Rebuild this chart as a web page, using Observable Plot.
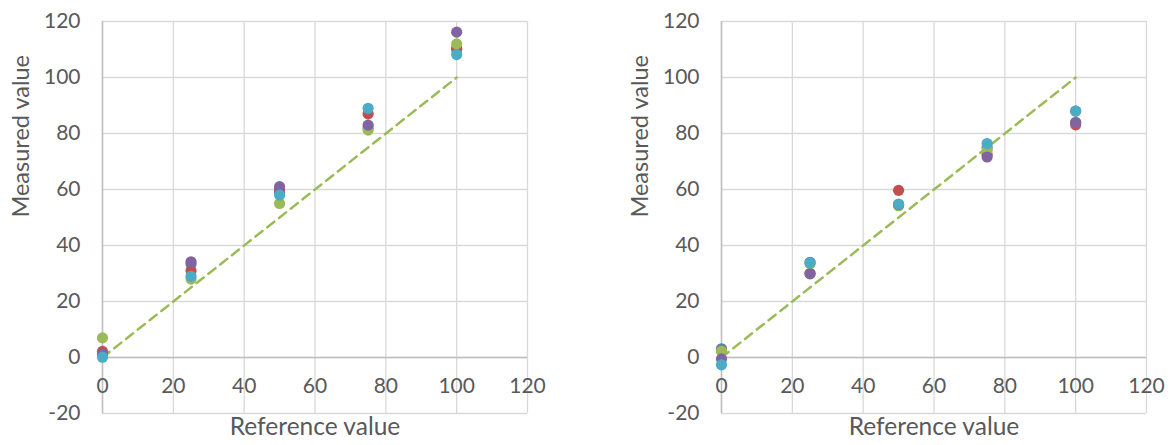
<!DOCTYPE html>
<html><head><meta charset="utf-8">
<script src="https://cdn.jsdelivr.net/npm/d3@7"></script>
<script src="https://cdn.jsdelivr.net/npm/@observablehq/plot@0.6"></script>
<style>
body{margin:0;background:#fff;}
#wrap{position:relative;width:1171px;height:445px;overflow:hidden;}
#wrap > div{position:absolute;top:0;}
</style></head><body><div id="wrap"><div id="c1" style="left:0"></div><div id="c2" style="left:619px"></div></div>
<script>
// Data
const referenceValues = [0, 25, 50, 75, 100];
const seriesNames = ["Series1", "Series2", "Series3", "Series4", "Series5"];
const seriesColors = ["#4F81BD", "#C0504D", "#9BBB59", "#8064A2", "#4BACC6"];

// Left chart: measured values per series at each reference value
const leftSeries1 = [1.0, 33.4, 59.0, 82.0, 110.0];
const leftSeries2 = [2.2, 31.0, 60.0, 87.0, 110.5];
const leftSeries3 = [7.0, 28.0, 55.0, 81.2, 112.0];
const leftSeries4 = [1.3, 34.2, 61.0, 83.0, 116.2];
const leftSeries5 = [0.1, 29.0, 58.0, 89.0, 108.2];

// Right chart
const rightSeries1 = [3.1, 34.0, 54.5, 75.0, 88.0];
const rightSeries2 = [2.5, 30.0, 59.7, 72.5, 83.1];
const rightSeries3 = [2.25, 33.5, 54.2, 74.0, 84.0];
const rightSeries4 = [-0.5, 29.9, 54.6, 71.6, 83.9];
const rightSeries5 = [-2.6, 33.8, 54.8, 76.4, 88.0];

// Ideal (y = x) line
const idealX = [0, 100];
const idealY = [0, 100];

const xTicks = [0, 20, 40, 60, 80, 100, 120];
const yTicks = [-20, 0, 20, 40, 60, 80, 100, 120];
const xTitle = "Reference value";
const yTitle = "Measured value";

function rowsFor(seriesList) {
  const rows = [];
  seriesList.forEach((vals, i) => {
    vals.forEach((v, j) => rows.push({x: referenceValues[j], y: v, s: seriesNames[i]}));
  });
  return rows;
}

const textColor = "#595959";

function chart(seriesList, width, marginRight) {
  const rows = rowsFor(seriesList);
  const ideal = idealX.map((x, i) => ({x, y: idealY[i]}));
  return Plot.plot({
    width, height: 445,
    marginTop: 21, marginBottom: 32, marginLeft: 102, marginRight,
    style: {fontFamily: "Lato, 'Open Sans', sans-serif", fontSize: "21px", color: textColor, background: "white", overflow: "visible"},
    x: {domain: [0, 120], axis: null},
    y: {domain: [-20, 120], axis: null},
    color: {domain: seriesNames, range: seriesColors},
    marks: [
      Plot.gridY(yTicks, {stroke: "#d9d9d9", strokeOpacity: 1, strokeWidth: 1.3}),
      Plot.gridX(xTicks, {stroke: "#d9d9d9", strokeOpacity: 1, strokeWidth: 1.3}),
      Plot.ruleY([0], {stroke: "#bfbfbf", strokeWidth: 1.5}),
      Plot.ruleX([0], {stroke: "#bfbfbf", strokeWidth: 1.5}),
      Plot.line(ideal, {x: "x", y: "y", stroke: "#9BBB59", strokeWidth: 2.5, strokeDasharray: "9,6"}),
      Plot.dot(rows, {x: "x", y: "y", fill: "s", r: 5.6}),
      Plot.text(xTicks, {x: d => d, y: () => 0, dy: 29, text: d => String(d), fontSize: 21}),
      Plot.text(yTicks, {y: d => d, frameAnchor: "left", dx: -22, textAnchor: "end", text: d => String(d), fontSize: 21}),
      Plot.text([xTitle], {frameAnchor: "bottom", dy: 21, text: d => d, fontSize: 24.5}),
      Plot.text([yTitle], {frameAnchor: "left", rotate: -90, dx: -81, text: d => d, fontSize: 23.5})
    ]
  });
}

document.getElementById("c1").append(chart([leftSeries1, leftSeries2, leftSeries3, leftSeries4, leftSeries5], 619, 92));
document.getElementById("c2").append(chart([rightSeries1, rightSeries2, rightSeries3, rightSeries4, rightSeries5], 552, 25));
</script></body></html>
